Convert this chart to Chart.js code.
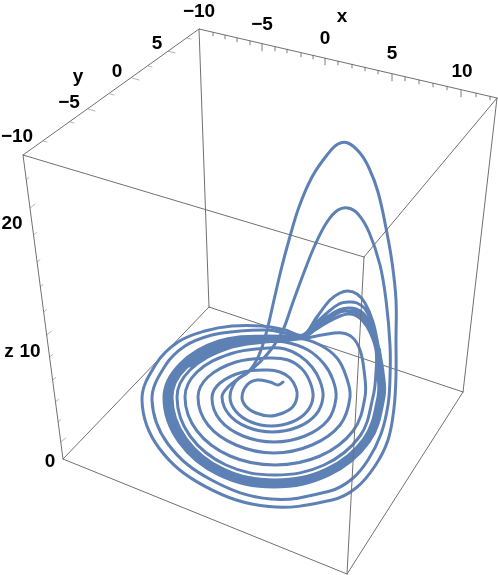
<!DOCTYPE html>
<html>
<head>
<meta charset="utf-8">
<style>html,body{margin:0;padding:0;background:#fff}canvas{display:block}</style>
<script src="https://cdn.jsdelivr.net/npm/chart.js@4"></script>
</head>
<body>
<canvas id="c" width="498" height="575"></canvas>
<script>
const innerSpiral = [[283,382],[278,385],[270,382],[257,380],[247,385],[242,397],[246,406.5],[256,413],[270,416],[283,413],[293,406.5],[297,397],[296,388],[290,378],[280,372],[268,370],[243,372],[220,383],[212,398],[220,420],[243,436],[274,442],[305,436],[328,420],[336,398],[333,380],[324,364],[308,350],[285,342],[265,342],[226,349],[190,370],[177,397],[190,436],[226,465],[275,475],[324,465],[360,436],[373,397],[376,372],[376,350]];
const hump1 = [[370,332],[362,320],[355,315],[348,314],[340,316],[328,322],[315,330],[303,338]];
const band0 = [[268,341],[223,347],[186,368],[172,397],[186,438.5],[223.5,469],[275,480],[326.5,469],[364,438.5],[378,397],[378,372],[377,350]];
const hump2 = [[371,330],[363,317],[355,312],[348,311],[340,312],[328,319],[315,328],[303,337]];
const band1 = [[268,339],[221.5,346],[184,367],[169,397],[183,439.5],[222,470.6],[274.5,482],[327,470.6],[366,439.5],[380,397],[380,372],[378,350]];
const hump3 = [[372,328],[364,314],[356,309],[348,308],[339,310],[327,317],[315,326],[303,337]];
const band2 = [[268,338],[220,344],[182,366],[167,397],[181,441],[221,473],[274.5,485],[328,473],[368,441],[382,397],[381,372],[378,350]];
const hump4 = [[372,324],[365,309],[357,303],[349,302],[339,304],[327,313],[314,325],[303,337]];
const band3 = [[268,336],[219,341],[180,364],[164,397],[179,442],[219,475],[274,487],[329,475],[369,442],[384,397],[383,372],[379,350]];
const hump5 = [[373,322],[365,303],[357,294],[348,291],[340,293],[330,300],[317,317],[303,336]];
const bandCore = [[303,337],[268,338.5],[220,345],[183,366],[168,397],[182,440],[221,471],[274,483.5],[327,472],[367,440],[381,397],[380,372],[378,350]];
const outerRing1 = [[285,333],[268,330],[240,331],[212,335],[185,346],[165,366],[152,400],[168,444],[211.5,480],[271,499],[330,491],[352,479],[368,460],[381,434],[388,405],[390,378],[390,345]];
const midArc = [[386,300],[380,265],[369,232],[358,214],[348,208],[338,210],[327,222],[315,245],[303,275],[292,305],[283,330],[273,347],[260,362],[247,373]];
const secondSpiral = [[236,381],[230,397],[236,411.5],[251,422],[271,426],[292,422],[307,411.5],[313,397],[310,382],[302,369],[288,360],[268,358],[236,362],[208,377],[198,397],[208,425],[236,445],[274,453],[312,445],[340,425],[350,397],[346,376],[337,358],[320,345],[298,338],[268,339],[226,345],[190,366]];
const outerRing2 = [[317,317],[303,335],[285,330],[262,326],[232,326],[205,331],[178,342],[156,364],[142,400.6],[159,448],[205.5,486.6],[269,506.6],[332,500],[356,488],[375,466],[388,440],[394,408],[396,375],[396,340]];
const tallArc = [[396,300],[392,262],[386,228],[378,192],[369,168],[360,153],[348,143],[338,144],[327,155],[312,177],[299,207],[289,240],[281,270],[274,300],[267,330],[259,355],[250,370],[238,379]];
const thirdSpiral = [[228,387],[222,397],[229,414.5],[247,427],[272,432],[298,427],[316,414.5],[323,397],[320,381],[312,367],[300,356],[285,349],[268,348],[230,354],[197,372],[185,397],[197,431],[230,456],[275,465],[320,456],[353,431],[365,397],[364,370],[360,350],[353,338],[342,333],[322,335],[305,338],[268,339],[240,342]];

// Bounding box corners in the picture plane
const cornerTopLeft = [23,155], cornerTopBack = [199,29], cornerTopRight = [497,98], cornerTopFront = [364,257];
const cornerBottomLeft = [63,459], cornerBottomBack = [209,307], cornerBottomRight = [463,392], cornerBottomFront = [347,574];

// Tick bases along the axes: [h, v, isMajor]
const xTicks = [[213,32,0],[225,35,0],[237,38,0],[250,41,0],[262,44,1],[275,47,0],[287,49,0],[301,53,0],[313,55,0],[325,58,1],[338,61,0],[352,64,0],[365,67,0],[378,70,0],[392,74,1],[405,77,0],[419,80,0],[433,83,0],[447,86,0],[461,90,1],[476,93,0],[490,96,0]];
const yTicks = [[43,141,0],[70,122,0],[88,109,1],[110,94,0],[132,78,1],[148,66,0],[168,51,1],[187,38,0]];
const zTicks = [[26,180,0],[30,208,1],[33.5,235,0],[37,262,0],[40,287,0],[43.6,312,0],[46.7,335,1],[49.6,357,0],[52.6,380,0],[55.5,402,0],[58,422,0],[60.8,442,1]];

// Axis texts: [text, h, v]
const axisLabels = [
  ["\u221210",199,12],["\u22125",262,25],["0",325,39],["5",392,54],["10",462,72],["x",342,17],
  ["\u221210",17,137],["\u22125",69,103],["0",117,72],["5",157,44],["y",78,77],
  ["20",12,224],["10",30,352],["0",50,462],["z",9,352]
];

const curveColor = "#5E81B5";
const frameColor = "#707070";
const tickColor = "#b4b4b4";
const toPts = a => a.map(p => ({x:p[0], y:p[1]}));
function segs(list){ const out=[]; list.forEach(s=>{ s.forEach(p=>out.push({x:p[0],y:p[1]})); out.push({x:null,y:null}); }); return out; }

const path1 = [].concat(innerSpiral,hump1,band0,hump2,band1,hump3,band2,hump4,band3,hump5,outerRing1,midArc,secondSpiral);
const path2 = [].concat(outerRing2,tallArc,thirdSpiral);

const backEdges = [[cornerTopBack,cornerBottomBack],[cornerBottomLeft,cornerBottomBack],[cornerBottomBack,cornerBottomRight]];
const frontEdges = [[cornerTopLeft,cornerTopBack],[cornerTopBack,cornerTopRight],[cornerTopRight,cornerTopFront],[cornerTopFront,cornerTopLeft],[cornerTopLeft,cornerBottomLeft],[cornerTopRight,cornerBottomRight],[cornerTopFront,cornerBottomFront],[cornerBottomLeft,cornerBottomFront],[cornerBottomFront,cornerBottomRight]];
const tickSegs = [].concat(
  xTicks.map(t=>[[t[0],t[1]],[t[0],t[1]+(t[2]?7:4)]]),
  yTicks.map(t=>[[t[0],t[1]],[t[0]+(t[2]?7:4),t[1]+(t[2]?2:1)]]),
  zTicks.map(t=>[[t[0],t[1]],[t[0]+(t[2]?5:3),t[1]-(t[2]?4:2.5)]])
);

const labelPlugin = {
  id:"axisText",
  afterDraw(chart){
    const {ctx,scales:{x,y}} = chart;
    ctx.save();
    ctx.fillStyle="#000";
    ctx.font="bold 19px 'Liberation Sans', Arial, sans-serif";
    ctx.textAlign="center"; ctx.textBaseline="middle";
    axisLabels.forEach(l=>ctx.fillText(l[0],x.getPixelForValue(l[1]),y.getPixelForValue(l[2])));
    ctx.restore();
  }
};
const line = (data,color,width,order,tension)=>({data,borderColor:color,borderWidth:width,order,tension:tension||0,pointRadius:0,fill:false,showLine:true,spanGaps:false,clip:false,borderCapStyle:"round",borderJoinStyle:"round"});

new Chart(document.getElementById("c"),{
  type:"scatter",
  data:{datasets:[
    line(segs(tickSegs),tickColor,1,6),
    line(segs(backEdges),frameColor,1,5),
    line(toPts(bandCore),curveColor,6,4,0.38),
    line(toPts(path2),curveColor,3,3,0.38),
    line(toPts(path1),curveColor,3,2,0.38),
    line(segs(frontEdges),frameColor,1,1)
  ]},
  options:{
    responsive:false,animation:false,
    layout:{padding:0},
    plugins:{legend:{display:false},tooltip:{enabled:false},title:{display:false}},
    scales:{
      x:{type:"linear",min:0,max:498,display:false},
      y:{type:"linear",min:0,max:575,reverse:true,display:false}
    }
  },
  plugins:[labelPlugin]
});
</script>
</body>
</html>
